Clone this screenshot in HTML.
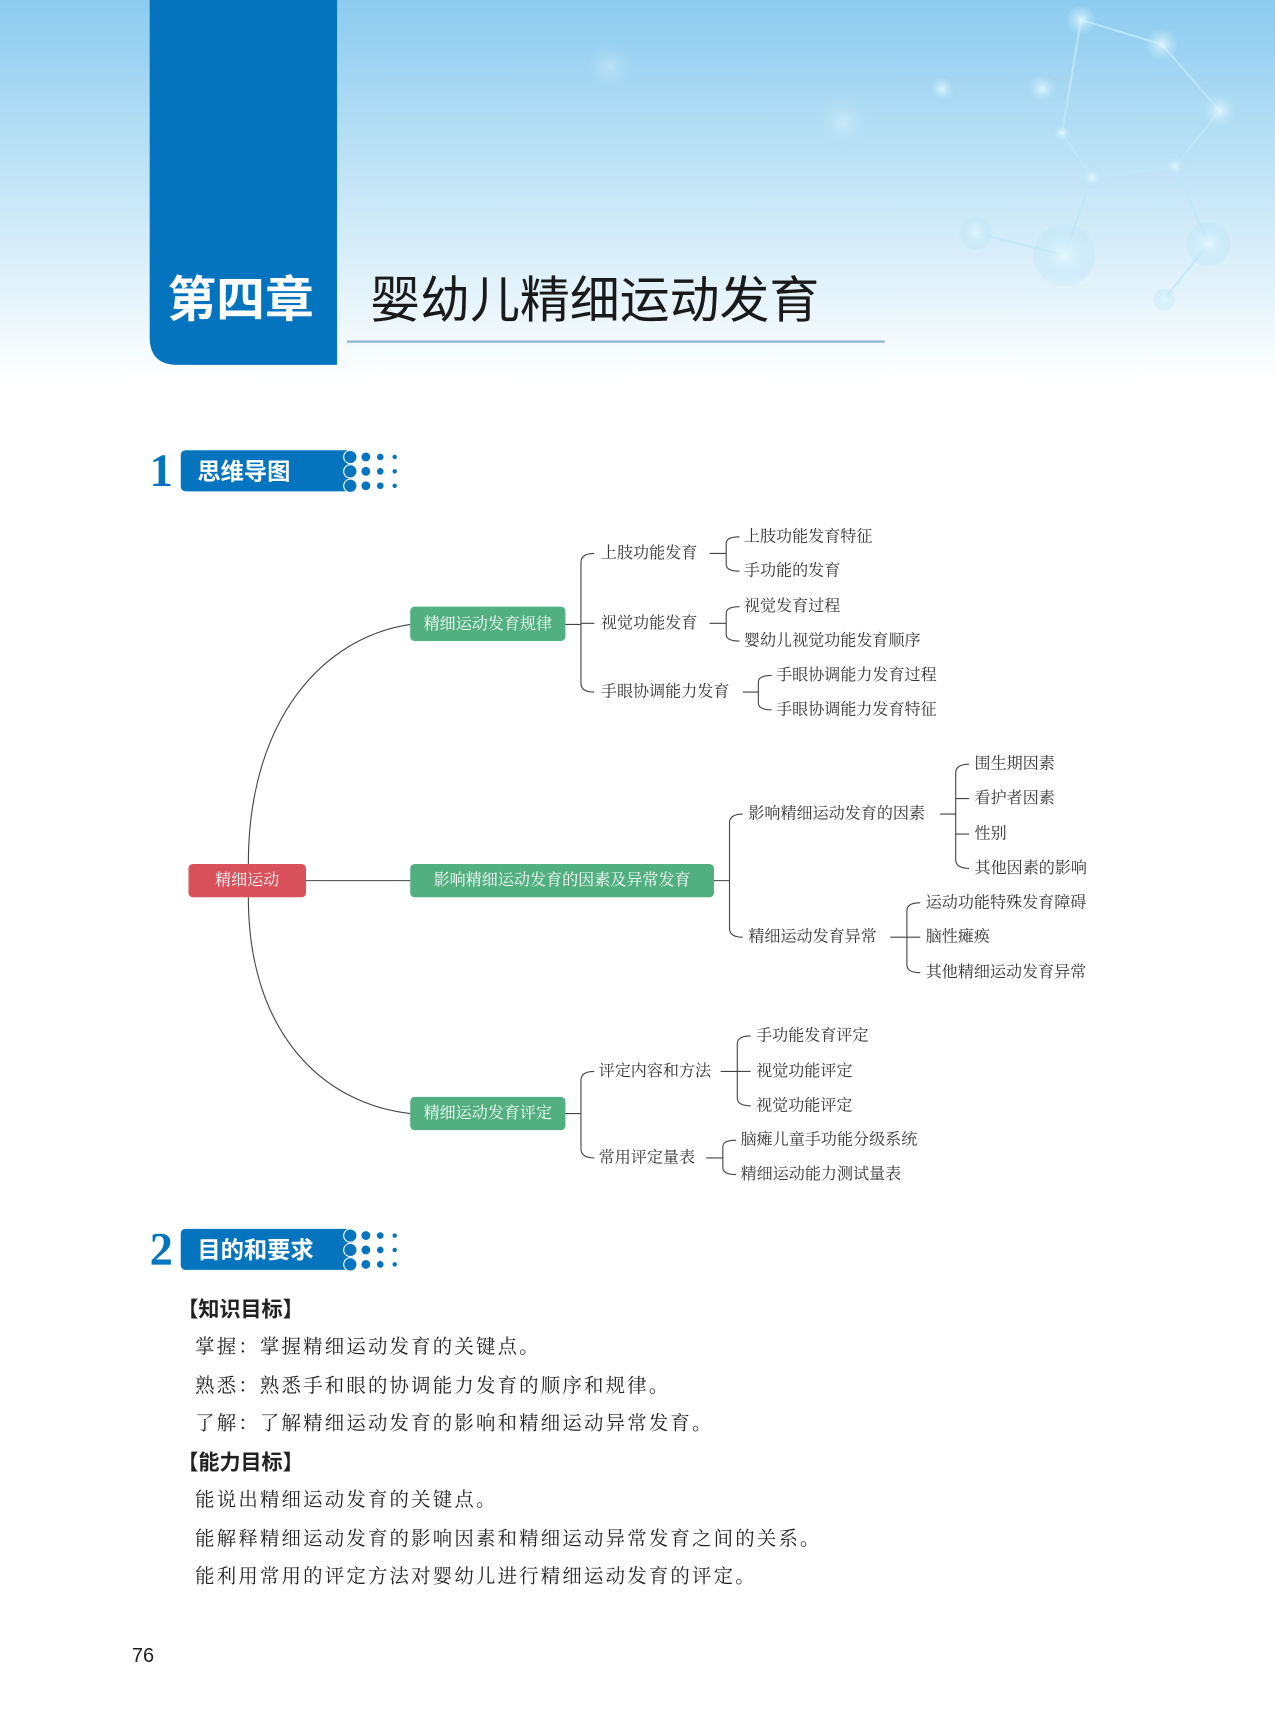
<!DOCTYPE html>
<html><head><meta charset="utf-8"><style>
html,body{margin:0;padding:0;background:#fff}
svg{display:block}
.t{font-family:"Liberation Serif","Noto Serif CJK SC",serif;font-size:14.5px;fill:#333;dominant-baseline:central}
.b{font-family:"Liberation Serif","Noto Serif CJK SC",serif;font-size:14.5px;fill:#fff;dominant-baseline:central}
.p{font-family:"Liberation Serif","Noto Serif CJK SC",serif;font-size:17.5px;fill:#222;letter-spacing:2px;dominant-baseline:central}
.h{font-family:"Liberation Sans","Noto Sans CJK SC",sans-serif;font-weight:bold;dominant-baseline:central}
.ln{stroke:#444;stroke-width:1;fill:none}
</style></head><body>
<svg width="1275" height="1718" viewBox="0 0 1150 1549" preserveAspectRatio="none" xmlns="http://www.w3.org/2000/svg">
<defs>
<linearGradient id="bg" x1="0" y1="0" x2="0" y2="1">
<stop offset="0" stop-color="#8ccbef"/><stop offset="0.5" stop-color="#c6e6f7"/><stop offset="1" stop-color="#ffffff"/>
</linearGradient>
<radialGradient id="bub"><stop offset="0" stop-color="#e6f8ff" stop-opacity="0.9"/><stop offset="1" stop-color="#aee0f5" stop-opacity="0.2"/></radialGradient>
</defs>
<rect x="0" y="0" width="1150" height="345" fill="url(#bg)"/>
<g stroke="#bfe8f8" stroke-width="2" opacity="0.8" fill="none">
<path d="M975 18 L1048 40 L1100 100 L1060 150 L985 160 L958 120 Z"/>
<path d="M1060 150 L1090 220 L1050 270 M985 160 L960 230 L880 210"/>
</g>
<g fill="url(#bub)">
<circle cx="975" cy="18" r="13"/><circle cx="1048" cy="40" r="14"/><circle cx="1100" cy="100" r="16"/><circle cx="1060" cy="150" r="9"/><circle cx="985" cy="160" r="10"/><circle cx="958" cy="120" r="8"/><circle cx="940" cy="80" r="12"/><circle cx="960" cy="230" r="28"/><circle cx="880" cy="210" r="15"/><circle cx="1090" cy="220" r="20"/><circle cx="1050" cy="270" r="10"/><circle cx="850" cy="80" r="10"/><circle cx="760" cy="110" r="25" opacity="0.5"/><circle cx="550" cy="60" r="20" opacity="0.4"/>
</g>
<path d="M135 0 H304 V329 H160 Q135 329 135 304 Z" fill="#0474be"/>
<text x="151" y="271" class="h" font-size="44" fill="#fff">第四章</text>
<text x="334" y="271" font-family="Liberation Sans,Noto Sans CJK SC,sans-serif" font-size="45" fill="#1a1a1a" dominant-baseline="central">婴幼儿精细运动发育</text>
<rect x="313" y="307" width="485" height="2" fill="#8fb5cf"/>

<!-- section 1 -->
<text x="135" y="425" font-family="Liberation Serif,serif" font-weight="bold" font-size="42" fill="#0474be" dominant-baseline="central">1</text>
<path d="M168 406 H318 V443 H168 Q163 443 163 438 V411 Q163 406 168 406 Z" fill="#0474be"/>
<text x="178" y="425" class="h" font-size="21" fill="#fff">思维导图</text>
<g fill="#0474be" stroke="#fff" stroke-width="1">
<circle cx="316" cy="412" r="6"/><circle cx="316" cy="425" r="6"/><circle cx="316" cy="438" r="6"/>
<circle cx="330" cy="412" r="4.5"/><circle cx="330" cy="425" r="4.5"/><circle cx="330" cy="438" r="4.5"/>
<circle cx="343" cy="412" r="3.5"/><circle cx="343" cy="425" r="3.5"/><circle cx="343" cy="438" r="3.5"/>
<circle cx="356" cy="412" r="2.5"/><circle cx="356" cy="425" r="2.5"/><circle cx="356" cy="438" r="2.5"/>
</g>

<!-- mind map -->
<path class="ln" d="M224 779 C224 650 290 575 370 563"/>
<path class="ln" d="M224 809 C224 930 290 995 370 1004"/>
<path class="ln" d="M276 794 H370"/>
<rect x="170" y="779" width="106" height="30" rx="4" fill="#d9515a"/>
<text x="223" y="794" class="b" text-anchor="middle">精细运动</text>
<rect x="370" y="547" width="140" height="31" rx="4" fill="#52b080"/>
<text x="440" y="563" class="b" text-anchor="middle">精细运动发育规律</text>
<rect x="370" y="779" width="274" height="30" rx="4" fill="#52b080"/>
<text x="507" y="794" class="b" text-anchor="middle">影响精细运动发育的因素及异常发育</text>
<rect x="370" y="989" width="140" height="30" rx="4" fill="#52b080"/>
<text x="440" y="1004" class="b" text-anchor="middle">精细运动发育评定</text>

<g class="ln">
<!-- branch1 -->
<path d="M510 563 H524 M536 499 Q524 499 524 507 V616 Q524 624 536 624 M524 562 H536"/>
<path d="M640 499 H655 M667 484 Q655 484 655 490 V509 Q655 515 667 515"/>
<path d="M640 562 H655 M667 547 Q655 547 655 553 V572 Q655 578 667 578"/>
<path d="M670 624 H684 M696 609 Q684 609 684 615 V634 Q684 640 696 640"/>
<!-- branch2 -->
<path d="M644 794 H658 M670 734 Q658 734 658 742 V837 Q658 845 670 845"/>
<path d="M848 734 H862 M874 689 Q862 689 862 697 V775 Q862 783 874 783 M862 720 H874 M862 752 H874"/>
<path d="M803 845 H818 M830 814 Q818 814 818 821 V870 Q818 877 830 877 M818 845 H830"/>
<!-- branch3 -->
<path d="M510 1004 H524 M536 966 Q524 966 524 974 V1036 Q524 1044 536 1044"/>
<path d="M650 966 H665 M677 934 Q665 934 665 941 V990 Q665 997 677 997 M665 966 H677"/>
<path d="M637 1044 H652 M664 1028 Q652 1028 652 1034 V1053 Q652 1059 664 1059"/>
</g>
<g class="t">
<text x="542" y="499">上肢功能发育</text>
<text x="542" y="562">视觉功能发育</text>
<text x="542" y="624">手眼协调能力发育</text>
<text x="671" y="484">上肢功能发育特征</text>
<text x="671" y="515">手功能的发育</text>
<text x="671" y="547">视觉发育过程</text>
<text x="671" y="578">婴幼儿视觉功能发育顺序</text>
<text x="700" y="609">手眼协调能力发育过程</text>
<text x="700" y="640">手眼协调能力发育特征</text>
<text x="675" y="734">影响精细运动发育的因素</text>
<text x="675" y="845">精细运动发育异常</text>
<text x="879" y="689">围生期因素</text>
<text x="879" y="720">看护者因素</text>
<text x="879" y="752">性别</text>
<text x="879" y="783">其他因素的影响</text>
<text x="835" y="814">运动功能特殊发育障碍</text>
<text x="835" y="845">脑性瘫痪</text>
<text x="835" y="877">其他精细运动发育异常</text>
<text x="540" y="966">评定内容和方法</text>
<text x="540" y="1044">常用评定量表</text>
<text x="682" y="934">手功能发育评定</text>
<text x="682" y="966">视觉功能评定</text>
<text x="682" y="997">视觉功能评定</text>
<text x="668" y="1028">脑瘫儿童手功能分级系统</text>
<text x="668" y="1059">精细运动能力测试量表</text>
</g>

<!-- section 2 -->
<text x="135" y="1127" font-family="Liberation Serif,serif" font-weight="bold" font-size="42" fill="#0474be" dominant-baseline="central">2</text>
<path d="M168 1108 H318 V1145 H168 Q163 1145 163 1140 V1113 Q163 1108 168 1108 Z" fill="#0474be"/>
<text x="178" y="1127" class="h" font-size="21" fill="#fff">目的和要求</text>
<g fill="#0474be" stroke="#fff" stroke-width="1">
<circle cx="316" cy="1114" r="6"/><circle cx="316" cy="1127" r="6"/><circle cx="316" cy="1140" r="6"/>
<circle cx="330" cy="1114" r="4.5"/><circle cx="330" cy="1127" r="4.5"/><circle cx="330" cy="1140" r="4.5"/>
<circle cx="343" cy="1114" r="3.5"/><circle cx="343" cy="1127" r="3.5"/><circle cx="343" cy="1140" r="3.5"/>
<circle cx="356" cy="1114" r="2.5"/><circle cx="356" cy="1127" r="2.5"/><circle cx="356" cy="1140" r="2.5"/>
</g>
<text x="160" y="1181" class="h" font-size="19" fill="#222">【知识目标】</text>
<text x="176" y="1215" class="p">掌握：掌握精细运动发育的关键点。</text>
<text x="176" y="1250" class="p">熟悉：熟悉手和眼的协调能力发育的顺序和规律。</text>
<text x="176" y="1284" class="p">了解：了解精细运动发育的影响和精细运动异常发育。</text>
<text x="160" y="1319" class="h" font-size="19" fill="#222">【能力目标】</text>
<text x="176" y="1353" class="p">能说出精细运动发育的关键点。</text>
<text x="176" y="1388" class="p">能解释精细运动发育的影响因素和精细运动异常发育之间的关系。</text>
<text x="176" y="1422" class="p">能利用常用的评定方法对婴幼儿进行精细运动发育的评定。</text>
<text x="119" y="1493" font-family="Liberation Sans,sans-serif" font-size="18" fill="#222" dominant-baseline="central">76</text>
</svg>
</body></html>
